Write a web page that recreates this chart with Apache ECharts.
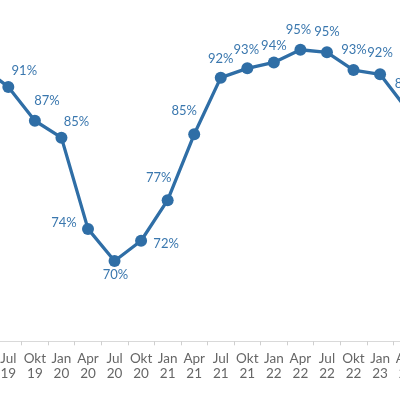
<!DOCTYPE html>
<html>
<head>
<meta charset="utf-8">
<script src="https://cdn.jsdelivr.net/npm/echarts@6/dist/echarts.min.js"></script>
<style>
html,body{margin:0;padding:0;background:#fff;}
#chart{width:400px;height:395px;}
</style>
</head>
<body>
<div id="chart"></div>
<script>
// Data (quarters, share in %)
const categories = ['Apr 19','Jul 19','Okt 19','Jan 20','Apr 20','Jul 20','Okt 20','Jan 21','Apr 21','Jul 21','Okt 21','Jan 22','Apr 22','Jul 22','Okt 22','Jan 23','Apr 23'];
const values = [93.0, 90.6, 86.6, 84.6, 73.8, 70.0, 72.4, 77.2, 85.0, 91.7, 92.8, 93.5, 95.0, 94.7, 92.6, 92.1, 88.0];

// Label placement (style only): offset of each value label centre from its point
const labelOffsets = [[0,-20],[16,-16],[12,-20],[15,-16],[-24,-6],[1,13.5],[25,3.5],[-9,-22],[-10,-23],[0,-18.5],[-1,-19],[0,-16.5],[-2,-19.5],[0,-20],[0.5,-20],[0,-21.5],[1,-25]];

const lineColor = '#2f6ea6';
const labelColor = '#3a77ae';
const symbolSize = 12;

const seriesData = values.map((v, i) => ({
  value: v,
  label: {
    position: [symbolSize / 2 + labelOffsets[i][0], symbolSize / 2 + labelOffsets[i][1]],
    align: 'center',
    verticalAlign: 'middle'
  }
}));

const chart = echarts.init(document.getElementById('chart'), null, { renderer: 'canvas' });
chart.setOption({
  animation: false,
  backgroundColor: '#ffffff',
  grid: { left: -31.5, right: -19.9, top: 7.5, bottom: 53.7, containLabel: false, outerBoundsMode: 'none' },
  xAxis: {
    type: 'category',
    data: categories,
    boundaryGap: true,
    axisLine: { show: true, lineStyle: { color: '#d9d9d9', width: 1 } },
    axisTick: { show: true, length: 4, lineStyle: { color: '#cfcfcf' } },
    axisLabel: {
      interval: 0,
      margin: 10,
      color: '#666666',
      fontFamily: 'Lato',
      fontSize: 13.5,
      lineHeight: 15,
      formatter: (v) => v.replace(' ', '\n')
    },
    splitLine: { show: false }
  },
  yAxis: {
    type: 'value',
    min: 60.5,
    max: 100,
    show: false,
    splitLine: { show: false }
  },
  series: [{
    type: 'line',
    data: seriesData,
    symbol: 'circle',
    symbolSize: symbolSize,
    lineStyle: { color: lineColor, width: 3.3 },
    itemStyle: { color: lineColor },
    label: {
      show: true,
      color: labelColor,
      fontFamily: 'Lato',
      fontSize: 13,
      align: 'center',
      verticalAlign: 'middle',
      formatter: (p) => Math.round(p.value) + '%'
    },
    labelLayout: { hideOverlap: false }
  }]
});
</script>
</body>
</html>
